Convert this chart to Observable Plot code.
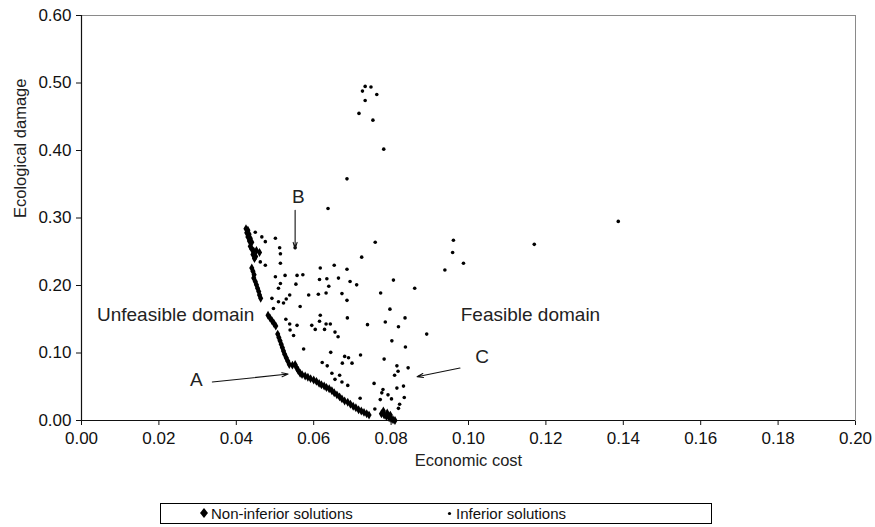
<!DOCTYPE html>
<html><head><meta charset="utf-8">
<script src="https://cdn.jsdelivr.net/npm/d3@7"></script>
<script src="https://cdn.jsdelivr.net/npm/@observablehq/plot@0.6"></script>
<style>
body{margin:0;background:#fff;font-family:"Liberation Sans",Arial,sans-serif;}
#wrap{position:relative;width:875px;height:527px;}
#legend{position:absolute;left:160px;top:503px;width:550px;height:19px;border:1px solid #000;font-size:15px;color:#111;}
#legend span{position:absolute;top:0;line-height:19px;white-space:nowrap;}
#legend svg{position:absolute;}
</style></head><body><div id="wrap"></div>
<script>
// Non-inferior solutions [economic cost, ecological damage]
const nonInferior = [
[0.0425,0.284],[0.0430,0.282],[0.0427,0.278],[0.0433,0.276],[0.0430,0.272],[0.0436,0.270],[0.0434,0.266],[0.0440,0.264],
[0.0436,0.258],[0.0440,0.254],[0.0445,0.251],[0.0452,0.252],[0.0460,0.249],[0.0443,0.246],[0.0450,0.243],[0.0447,0.240],
[0.0440,0.226],[0.0443,0.221],[0.0446,0.216],[0.0445,0.211],[0.0449,0.206],[0.0452,0.201],[0.0455,0.196],[0.0458,0.191],[0.0460,0.186],[0.0463,0.181],
[0.0482,0.156],[0.0487,0.152],[0.0492,0.148],[0.0497,0.144],[0.0502,0.140],
[0.0507,0.128],[0.0510,0.123],[0.0513,0.118],[0.0516,0.113],[0.0519,0.108],[0.0522,0.103],[0.0525,0.098],[0.0529,0.093],[0.0533,0.088],[0.0537,0.083],
[0.0545,0.082],[0.0552,0.083],[0.0556,0.078],[0.0560,0.074],[0.0565,0.070],[0.0570,0.068],
[0.0578,0.066],[0.0585,0.064],[0.0592,0.062],[0.0600,0.060],[0.0607,0.058],[0.0614,0.055],[0.0620,0.053],[0.0627,0.051],[0.0633,0.049],
[0.0640,0.047],[0.0647,0.044],[0.0653,0.041],[0.0660,0.038],[0.0667,0.035],[0.0673,0.032],[0.0680,0.029],
[0.0688,0.027],[0.0695,0.024],[0.0702,0.021],[0.0709,0.019],[0.0716,0.016],[0.0723,0.014],[0.0730,0.012],[0.0737,0.010],[0.0743,0.008],
[0.0775,0.010],[0.0782,0.008],[0.0788,0.006],[0.0795,0.004],[0.0800,0.003],[0.0805,0.001],[0.0810,0.000],[0.0790,0.011],[0.0798,0.008],[0.0780,0.014]
];
// Inferior solutions [economic cost, ecological damage]
const inferior = [
[0.0733,0.495],[0.0748,0.494],[0.0726,0.488],[0.0763,0.483],[0.0733,0.474],[0.0717,0.455],[0.0753,0.445],[0.0781,0.402],
[0.0686,0.358],[0.0637,0.314],[0.1387,0.295],[0.1170,0.261],[0.0961,0.267],[0.0959,0.249],[0.0987,0.233],[0.0939,0.223],
[0.0861,0.196],[0.0892,0.128],[0.0836,0.152],
[0.0449,0.279],[0.0466,0.272],[0.0475,0.265],[0.0501,0.270],[0.0512,0.256],[0.0514,0.247],[0.0552,0.256],[0.0462,0.235],
[0.0475,0.230],[0.0514,0.233],[0.0501,0.213],[0.0526,0.215],[0.0557,0.215],[0.0572,0.216],[0.0514,0.203],[0.0509,0.196],
[0.0554,0.202],[0.0492,0.181],[0.0509,0.176],[0.0522,0.174],[0.0529,0.180],[0.0538,0.186],[0.0565,0.169],[0.0587,0.186],
[0.0617,0.226],[0.0653,0.230],[0.0686,0.224],[0.0615,0.209],[0.0634,0.210],[0.0664,0.211],[0.0694,0.206],[0.0711,0.201],
[0.0639,0.199],[0.0612,0.187],[0.0632,0.189],[0.0673,0.188],[0.0686,0.178],[0.0759,0.264],[0.0724,0.242],[0.0806,0.208],
[0.0773,0.189],[0.0797,0.165],[0.0496,0.166],
[0.0687,0.152],[0.0739,0.142],[0.0785,0.146],[0.0819,0.139],[0.0802,0.118],[0.0837,0.109],[0.0782,0.091],[0.0721,0.097],
[0.0680,0.095],[0.0690,0.093],[0.0674,0.085],[0.0699,0.085],[0.0844,0.078],[0.0815,0.081],[0.0818,0.073],[0.0809,0.067],
[0.0756,0.055],[0.0779,0.046],[0.0776,0.041],[0.0832,0.051],[0.0815,0.048],[0.0792,0.038],[0.0801,0.032],[0.0834,0.034],
[0.0772,0.031],[0.0720,0.033],[0.0822,0.024],[0.0819,0.018],[0.0758,0.017],
[0.0617,0.156],[0.0528,0.150],[0.0538,0.143],[0.0539,0.134],[0.0548,0.126],[0.0557,0.141],[0.0595,0.141],[0.0604,0.135],
[0.0615,0.147],[0.0632,0.143],[0.0643,0.143],[0.0628,0.135],[0.0655,0.131],[0.0663,0.124],[0.0574,0.106],[0.0644,0.101],
[0.0622,0.086],[0.0635,0.081],[0.0647,0.070],[0.0667,0.067],[0.0655,0.061],[0.0673,0.057],[0.0688,0.052]
];
const xTicks = [0, 0.02, 0.04, 0.06, 0.08, 0.10, 0.12, 0.14, 0.16, 0.18, 0.20];
const yTicks = [0, 0.1, 0.2, 0.3, 0.4, 0.5, 0.6];
const regionNames = ["Unfeasible domain", "Feasible domain"];
const regionCost = [0.004, 0.098];
const regionDamage = [0.157, 0.157];
const pointerNames = ["A", "B", "C"];
const pointerCost = [0.0297, 0.056, 0.1035];
const pointerDamage = [0.060, 0.331, 0.094];
const arrowFromCost = [0.0338, 0.0552, 0.0978];
const arrowFromDamage = [0.057, 0.3115, 0.0777];
const arrowToCost = [0.0534, 0.0552, 0.0867];
const arrowToDamage = [0.0688, 0.2545, 0.0648];
const legendNames = ["Non-inferior solutions", "Inferior solutions"];

const fmt = d3.format(".2f");
const chart = Plot.plot({
  width: 875, height: 497,
  marginLeft: 81, marginRight: 20, marginTop: 15, marginBottom: 77,
  style: {fontFamily: "Liberation Sans, Arial, sans-serif", fontSize: "17px", color: "#111", background: "#fff"},
  x: {domain: [0, 0.2], ticks: xTicks, tickFormat: fmt, tickSize: 5, tickPadding: 6, label: null},
  y: {domain: [0, 0.6], ticks: yTicks, tickFormat: fmt, tickSize: 5, tickPadding: 5, label: null},
  marks: [
    Plot.frame({stroke: "#8a8a8a"}),
    Plot.ruleX([0], {stroke: "#111", strokeWidth: 1.2}),
    Plot.ruleY([0], {stroke: "#111", strokeWidth: 1.2}),
    Plot.dot(inferior, {x: d => d[0], y: d => d[1], r: 1.8, fill: "#000"}),
    Plot.dot(nonInferior, {x: d => d[0], y: d => d[1], symbol: "diamond", r: 2.7, fill: "#000"}),
    Plot.text(regionNames, {x: (d, i) => regionCost[i], y: (d, i) => regionDamage[i], text: d => d, textAnchor: "start", fontSize: 19, fill: "#222"}),
    Plot.text(pointerNames, {x: (d, i) => pointerCost[i], y: (d, i) => pointerDamage[i], text: d => d, fontSize: 19, fill: "#222"}),
    Plot.arrow(pointerNames, {x1: (d, i) => arrowFromCost[i], y1: (d, i) => arrowFromDamage[i], x2: (d, i) => arrowToCost[i], y2: (d, i) => arrowToDamage[i], stroke: "#111", strokeWidth: 1.1, headLength: 9, headAngle: 35}),
    Plot.text(["Economic cost"], {frameAnchor: "bottom", dy: 45, fontSize: 16.5, fill: "#222"}),
    Plot.text(["Ecological damage"], {frameAnchor: "left", dx: -61, rotate: -90, fontSize: 16.5, fill: "#222"})
  ]
});
const wrap = document.getElementById("wrap");
wrap.appendChild(chart);
const legend = document.createElement("div");
legend.id = "legend";
legend.innerHTML =
  `<svg width="8" height="10" style="left:39px;top:4px"><path d="M4,0L8,5L4,10L0,5Z" fill="#000"/></svg>` +
  `<span style="left:50px">${legendNames[0]}</span>` +
  `<svg width="5" height="5" style="left:286px;top:7px"><circle cx="2.5" cy="2.5" r="1.6" fill="#000"/></svg>` +
  `<span style="left:295px">${legendNames[1]}</span>`;
wrap.appendChild(legend);
</script>
</body></html>
